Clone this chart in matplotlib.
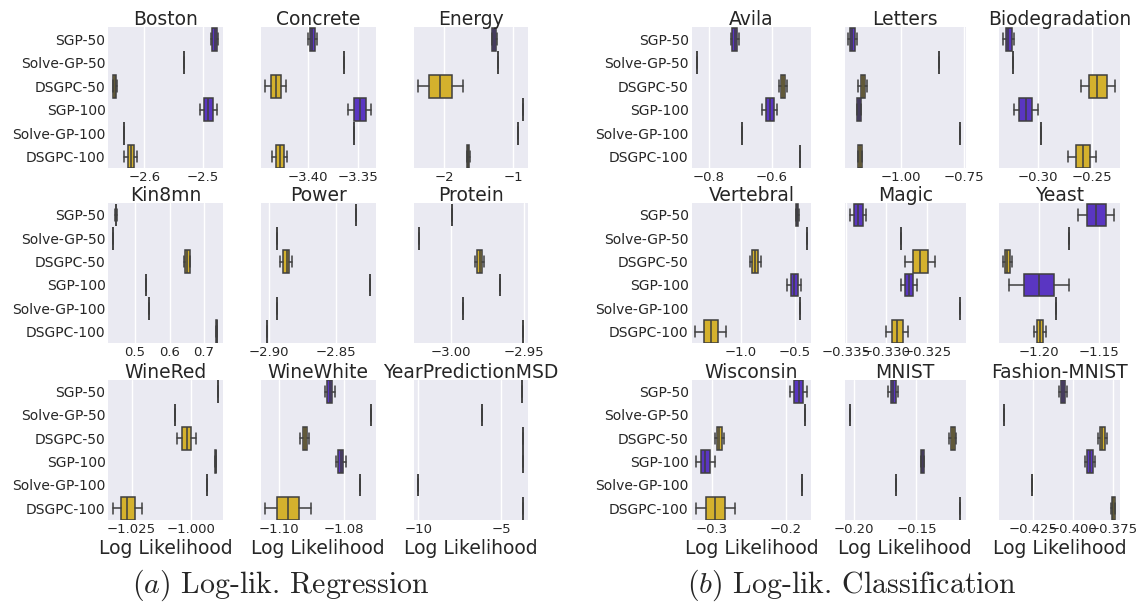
import matplotlib
matplotlib.use("Agg")
import matplotlib.pyplot as plt
import seaborn as sns

sns.set_style("darkgrid")
plt.rcParams["font.family"] = ["DejaVu Sans"]
plt.rcParams["mathtext.fontset"] = "cm"

metodos = ["SGP-50", "Solve-GP-50", "DSGPC-50", "SGP-100", "Solve-GP-100", "DSGPC-100"]
colores = ["#5a36c2", "#8c8c8c", "#d4b12d", "#5a36c2", "#8c8c8c", "#d4b12d"]

# cada caja: [bigote inf, q1, mediana, q3, bigote sup]; un numero solo = caja sin ancho
boston = [[-2.4858, -2.4836, -2.4798, -2.475, -2.4733], -2.5325,
          [-2.6535, -2.6531, -2.6505, -2.648, -2.6475],
          [-2.504, -2.4973, -2.4904, -2.4829, -2.476], -2.6348,
          [-2.6348, -2.6284, -2.6228, -2.6171, -2.612]]
concrete = [[-3.4003, -3.3983, -3.3958, -3.3933, -3.3916], -3.364,
            [-3.443, -3.4376, -3.4326, -3.4273, -3.4223],
            [-3.36, -3.3543, -3.3483, -3.3426, -3.3373], -3.3543,
            [-3.436, -3.432, -3.4283, -3.4246, -3.421]]
energy = [[-1.31, -1.304, -1.275, -1.246, -1.24], -1.227,
          [-2.377, -2.217, -2.058, -1.894, -1.729], -0.855, -0.928,
          [-1.671, -1.668, -1.652, -1.636, -1.633]]
kin8mn = [[0.4427, 0.4433, 0.4444, 0.4456, 0.446], 0.4357,
          [0.643, 0.645, 0.652, 0.6588, 0.66], 0.532, 0.5398,
          [0.736, 0.7365, 0.7377, 0.739, 0.7395]]
power = [-2.835, -2.8938, [-2.8916, -2.8893, -2.887, -2.8848, -2.8827],
         -2.8253, -2.894, -2.9017]
protein = [-2.9993, -3.0218, [-2.9837, -2.9821, -2.980, -2.9784, -2.977],
           -2.9665, -2.992, -2.9507]
winered = [-0.9886, -1.00664, [-1.00565, -1.00367, -1.0017, -0.99972, -0.9976],
           [-0.9897, -0.9895, -0.9894, -0.9893, -0.9891], -0.99322,
           [-1.03277, -1.02966, -1.02712, -1.02373, -1.02076]]
winewhite = [[-1.08595, -1.08523, -1.08451, -1.08369, -1.08277], -1.0719,
             [-1.09354, -1.09272, -1.092, -1.09128, -1.09067],
             [-1.08256, -1.08185, -1.08113, -1.08031, -1.07959], -1.07538,
             [-1.10421, -1.10062, -1.09713, -1.09385, -1.09026]]
yearpred = [-3.74, -6.16, -3.72, -3.72, -10.0, -3.70]

avila = [[-0.7316, -0.7263, -0.719, -0.7105, -0.7053], -0.8389,
         [-0.5779, -0.5726, -0.5663, -0.5579, -0.5526],
         [-0.6316, -0.62, -0.6053, -0.5937, -0.5832], -0.6937, -0.5095]
letters = [[-1.209, -1.2024, -1.1932, -1.1825, -1.1758], -0.849,
           [-1.1693, -1.16, -1.152, -1.1429, -1.136],
           [-1.176, -1.1734, -1.1667, -1.16, -1.158], -0.765,
           [-1.17, -1.169, -1.163, -1.156, -1.155]]
biodeg = [[-0.3328, -0.3306, -0.3281, -0.325, -0.3225], -0.324,
          [-0.2602, -0.2524, -0.2446, -0.236, -0.2285],
          [-0.3225, -0.3178, -0.3118, -0.3062, -0.3006], -0.2975,
          [-0.2721, -0.2643, -0.2582, -0.2514, -0.2456]]
vertebral = [[-0.492, -0.4889, -0.4787, -0.4657, -0.463], -0.388,
             [-0.9194, -0.8926, -0.8657, -0.8389, -0.812],
             [-0.5704, -0.5333, -0.5056, -0.4722, -0.4454], -0.449,
             [-1.4231, -1.3463, -1.2787, -1.2083, -1.1407]]
magic = [[-0.33444, -0.33395, -0.33346, -0.33293, -0.33252], -0.32817,
         [-0.32773, -0.32676, -0.32582, -0.32493, -0.32399],
         [-0.32817, -0.32773, -0.32724, -0.32676, -0.3263], -0.32091,
         [-0.33005, -0.32935, -0.32866, -0.32798, -0.32732]]
yeast = [[-1.1673, -1.1598, -1.1523, -1.1441, -1.1371], -1.175,
         [-1.2297, -1.2283, -1.2264, -1.2242, -1.2222],
         [-1.225, -1.2125, -1.1997, -1.1872, -1.1747], -1.1853,
         [-1.2039, -1.2011, -1.1989, -1.1964, -1.1936]]
wisconsin = [[-0.1938, -0.1884, -0.1824, -0.1766, -0.1716], -0.1742,
             [-0.2955, -0.2932, -0.2901, -0.2865, -0.2842],
             [-0.3216, -0.3154, -0.3091, -0.3023, -0.2965], -0.1776,
             [-0.3216, -0.3081, -0.2955, -0.282, -0.2695]]
mnist = [[-0.1726, -0.1705, -0.1684, -0.1663, -0.1647], -0.2034,
         [-0.1236, -0.1226, -0.1208, -0.1191, -0.1181],
         [-0.1466, -0.1466, -0.1452, -0.1439, -0.1439], -0.166, -0.1153]
fashion = [[-0.4092, -0.4079, -0.4065, -0.4051, -0.4038], -0.4434,
           [-0.3846, -0.3833, -0.3819, -0.3804, -0.3791],
           [-0.3926, -0.3913, -0.3897, -0.3879, -0.3866], -0.426,
           [-0.3765, -0.3761, -0.3752, -0.3743, -0.374]]

regresion = [[("Boston", boston), ("Concrete", concrete), ("Energy", energy)],
             [("Kin8mn", kin8mn), ("Power", power), ("Protein", protein)],
             [("WineRed", winered), ("WineWhite", winewhite), ("YearPredictionMSD", yearpred)]]
clasificacion = [[("Avila", avila), ("Letters", letters), ("Biodegradation", biodeg)],
                 [("Vertebral", vertebral), ("Magic", magic), ("Yeast", yeast)],
                 [("Wisconsin", wisconsin), ("MNIST", mnist), ("Fashion-MNIST", fashion)]]

# limites y ticks del eje x de cada panel
limites = {"Boston": (-2.6616, -2.4658), "Concrete": (-3.4476, -3.3326), "Energy": (-2.44, -0.783),
           "Kin8mn": (0.422, 0.7547), "Power": (-2.9062, -2.8207), "Protein": (-3.0252, -2.947),
           "WineRed": (-1.0349, -0.98644), "WineWhite": (-1.10544, -1.07046), "YearPredictionMSD": (-10.26, -3.38),
           "Avila": (-0.8558, -0.4747), "Letters": (-1.2222, -0.7437), "Biodegradation": (-0.3369, -0.2234),
           "Vertebral": (-1.459, -0.3454), "Magic": (-0.3351, -0.32026), "Yeast": (-1.2333, -1.1321),
           "Wisconsin": (-0.328, -0.1653), "MNIST": (-0.2072, -0.1107), "Fashion-MNIST": (-0.4464, -0.3709)}
ticks = {"Boston": [-2.6, -2.5], "Concrete": [-3.40, -3.35], "Energy": [-2, -1],
         "Kin8mn": [0.5, 0.6, 0.7], "Power": [-2.90, -2.85], "Protein": [-3.00, -2.95],
         "WineRed": [-1.025, -1.000], "WineWhite": [-1.10, -1.08], "YearPredictionMSD": [-10, -5],
         "Avila": [-0.8, -0.6], "Letters": [-1.00, -0.75], "Biodegradation": [-0.30, -0.25],
         "Vertebral": [-1.0, -0.5], "Magic": [-0.335, -0.330, -0.325], "Yeast": [-1.20, -1.15],
         "Wisconsin": [-0.3, -0.2], "MNIST": [-0.20, -0.15], "Fashion-MNIST": [-0.425, -0.400, -0.375]}

W, H = 1139, 602
fig = plt.figure(figsize=(W / 100, H / 100), dpi=100)

filas = [(27.3, 168.3), (203.3, 343.3), (380, 520)]
cols_izq = [(108.3, 222.7), (260.7, 375.7), (414, 528.3)]
cols_der = [(691.5, 811.4), (845, 965.6), (999, 1120)]

linea = "#3f3f3f"


def dibujar(ax, nombre, datos, primera_col, ultima_fila):
    stats = []
    for m, d in zip(metodos, datos):
        if not isinstance(d, list):
            d = [d, d, d, d, d]
        stats.append({"whislo": d[0], "q1": d[1], "med": d[2], "q3": d[3], "whishi": d[4], "label": m})
    cajas = ax.bxp(stats, positions=range(len(stats)), widths=0.98, vert=False,
                   showfliers=False, patch_artist=True,
                   boxprops=dict(edgecolor=linea, linewidth=1.1),
                   medianprops=dict(color=linea, linewidth=1.1),
                   whiskerprops=dict(color=linea, linewidth=1.1),
                   capprops=dict(color=linea, linewidth=1.1))
    for caja, c in zip(cajas["boxes"], colores):
        caja.set_facecolor(c)
    ax.set_ylim(5.5, -0.5)
    ax.set_xlim(*limites[nombre])
    ax.set_xticks(ticks[nombre])
    ax.ticklabel_format(axis="x", useOffset=False)
    ax.yaxis.grid(False)
    ax.xaxis.grid(True, color="white", linewidth=1.0)
    ax.tick_params(length=0, labelsize=9.5, pad=2)
    ax.set_yticks(range(len(metodos)))
    if primera_col:
        ax.set_yticklabels(metodos, fontsize=10)
    else:
        ax.set_yticklabels([])
    for s in ax.spines.values():
        s.set_visible(False)
    ax.set_title(nombre, fontsize=13.5, pad=1.5)
    if ultima_fila:
        ax.set_xlabel("Log Likelihood", fontsize=13.5, labelpad=2)


for grupo, cols in [(regresion, cols_izq), (clasificacion, cols_der)]:
    for i, fila in enumerate(grupo):
        y0, y1 = filas[i]
        for j, (nombre, datos) in enumerate(fila):
            x0, x1 = cols[j]
            ax = fig.add_axes([x0 / W, 1 - y1 / H, (x1 - x0) / W, (y1 - y0) / H])
            dibujar(ax, nombre, datos, j == 0, i == 2)

fig.text(281 / W, 1 - 585 / H, r"$(a)$ Log-lik. Regression", family="cmr10",
         fontsize=21.5, ha="center", va="center")
fig.text(852 / W, 1 - 585 / H, r"$(b)$ Log-lik. Classification", family="cmr10",
         fontsize=21.5, ha="center", va="center")

fig.savefig("out.png", dpi=100)
